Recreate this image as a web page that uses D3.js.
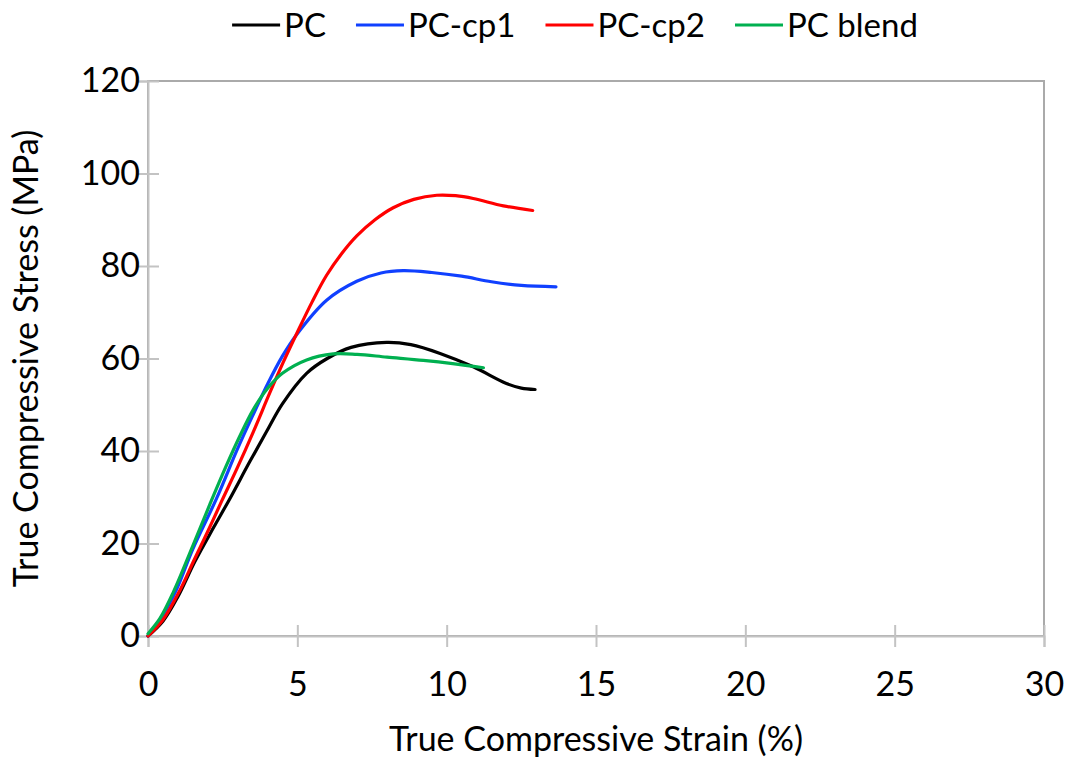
<!DOCTYPE html>
<html>
<head>
<meta charset="utf-8">
<script src="https://cdn.jsdelivr.net/npm/d3@7"></script>
<style>
  html, body { margin: 0; padding: 0; background: #fff; }
  svg { display: block; font-family: Lato, "Open Sans", sans-serif; }
</style>
</head>
<body>
<svg id="chart" width="1068" height="759"></svg>
<script>
// series names and colours
const seriesNames = ["PC", "PC-cp1", "PC-cp2", "PC blend"];
const seriesColors = ["#000000", "#1040ff", "#ff0000", "#00b050"];

// strain (%) / stress (MPa)
const pcStrain = [0, 0.5, 1.0, 1.57, 2.2, 2.75, 3.4, 3.97, 4.5, 5.31, 6.0, 6.8, 7.99, 8.8, 9.78, 10.89, 12.0, 12.5, 12.96];
const pcStress = [0, 3.2, 8.5, 16.1, 23.5, 29.8, 37.6, 44.2, 50.2, 56.8, 60.0, 62.4, 63.5, 63.0, 61.1, 58.2, 54.6, 53.6, 53.3];

const cp1Strain = [0, 0.45, 0.95, 1.5, 2.3, 3.0, 3.53, 4.03, 4.5, 4.98, 5.98, 6.99, 7.8, 8.55, 9.5, 10.5, 11.5, 12.5, 13.66];
const cp1Stress = [0, 4.0, 10.0, 18.8, 29.8, 40.5, 48.0, 54.8, 60.5, 65.2, 72.6, 76.7, 78.5, 79.0, 78.6, 77.8, 76.6, 75.8, 75.5];

const cp2Strain = [0, 0.5, 1.07, 1.52, 2.0, 2.47, 3.0, 3.53, 4.08, 4.53, 4.98, 5.5, 5.98, 6.5, 6.99, 7.6, 8.21, 8.9, 9.67, 10.3, 10.89, 11.9, 12.88];
const cp2Stress = [0, 3.5, 9.9, 16.1, 22.6, 29.2, 36.5, 44.2, 52.6, 59.2, 65.4, 72.3, 78.0, 82.8, 86.5, 90.0, 92.6, 94.4, 95.3, 95.2, 94.6, 93.0, 92.0];

const blendStrain = [0, 0.4, 0.85, 1.5, 2.08, 2.6, 3.08, 3.53, 4.0, 4.5, 5.31, 6.2, 7.0, 8.0, 9.22, 10.2, 11.23];
const blendStress = [0.5, 3.8, 9.5, 19.5, 28.6, 36.5, 43.3, 49.0, 53.5, 56.8, 59.7, 61.0, 60.9, 60.3, 59.6, 58.9, 58.0];

const xTicks = [0, 5, 10, 15, 20, 25, 30];
const yTicks = [0, 20, 40, 60, 80, 100, 120];

const strains = [pcStrain, cp1Strain, cp2Strain, blendStrain];
const stresses = [pcStress, cp1Stress, cp2Stress, blendStress];

const series = seriesNames.map((name, i) => ({
  name: name,
  color: seriesColors[i],
  values: strains[i].map((s, j) => ({ x: s, y: stresses[i][j] }))
}));

const svg = d3.select("#chart");
const plotLeft = 148, plotRight = 1044, plotTop = 81, plotBottom = 636;

const x = d3.scaleLinear().domain([0, 30]).range([plotLeft, plotRight]);
const y = d3.scaleLinear().domain([0, 120]).range([plotBottom, plotTop]);

// plot area border
svg.append("rect")
  .attr("x", plotLeft)
  .attr("y", plotTop)
  .attr("width", plotRight - plotLeft)
  .attr("height", plotBottom - plotTop)
  .attr("fill", "none")
  .attr("stroke", "#aaaaaa")
  .attr("stroke-width", 2);

// X axis, cross ticks
const xAxis = svg.append("g")
  .attr("transform", `translate(0,${plotBottom})`)
  .call(d3.axisBottom(x).tickValues(xTicks).tickSize(11).tickPadding(25));
xAxis.select(".domain").attr("stroke", "#c3c3c3").attr("stroke-width", 2);
xAxis.selectAll(".tick line")
  .attr("y1", -11)
  .attr("stroke", "#c3c3c3")
  .attr("stroke-width", 2);
xAxis.selectAll(".tick text")
  .attr("fill", "#000")
  .style("font-size", "34px")
  .style("font-family", "Lato, sans-serif");

// Y axis, cross ticks
const yAxis = svg.append("g")
  .attr("transform", `translate(${plotLeft},0)`)
  .call(d3.axisLeft(y).tickValues(yTicks).tickSize(11).tickPadding(-3));
yAxis.select(".domain").attr("stroke", "#c3c3c3").attr("stroke-width", 2);
yAxis.selectAll(".tick line")
  .attr("x1", 11)
  .attr("stroke", "#c3c3c3")
  .attr("stroke-width", 2);
yAxis.selectAll(".tick text")
  .attr("fill", "#000")
  .style("font-size", "34px")
  .style("font-family", "Lato, sans-serif");

// curves
const line = d3.line()
  .x(d => x(d.x))
  .y(d => y(d.y))
  .curve(d3.curveCatmullRom.alpha(0.5));

svg.append("g")
  .selectAll("path")
  .data(series)
  .enter()
  .append("path")
  .attr("d", d => line(d.values))
  .attr("fill", "none")
  .attr("stroke", d => d.color)
  .attr("stroke-width", 3.2)
  .attr("stroke-linecap", "round")
  .attr("stroke-linejoin", "round");

// axis titles
svg.append("text")
  .attr("x", (plotLeft + plotRight) / 2)
  .attr("y", 751)
  .attr("text-anchor", "middle")
  .style("font-size", "34px")
  .text("True Compressive Strain (%)");

svg.append("text")
  .attr("transform", "rotate(-90)")
  .attr("x", -(plotTop + plotBottom) / 2)
  .attr("y", 38)
  .attr("text-anchor", "middle")
  .style("font-size", "34px")
  .text("True Compressive Stress (MPa)");

// legend, centred at x = 575
const legend = svg.append("g");
let lx = 0;
series.forEach((s, i) => {
  legend.append("line")
    .attr("x1", lx)
    .attr("x2", lx + 48)
    .attr("y1", 25)
    .attr("y2", 25)
    .attr("stroke", s.color)
    .attr("stroke-width", 3.2);
  const t = legend.append("text")
    .attr("x", lx + 52)
    .attr("y", 25)
    .attr("dy", "0.35em")
    .style("font-size", "33px")
    .text(s.name);
  lx += 52 + t.node().getComputedTextLength() + (i < series.length - 1 ? 30 : 0);
});
legend.attr("transform", `translate(${575 - lx / 2},0)`);
</script>
</body>
</html>
